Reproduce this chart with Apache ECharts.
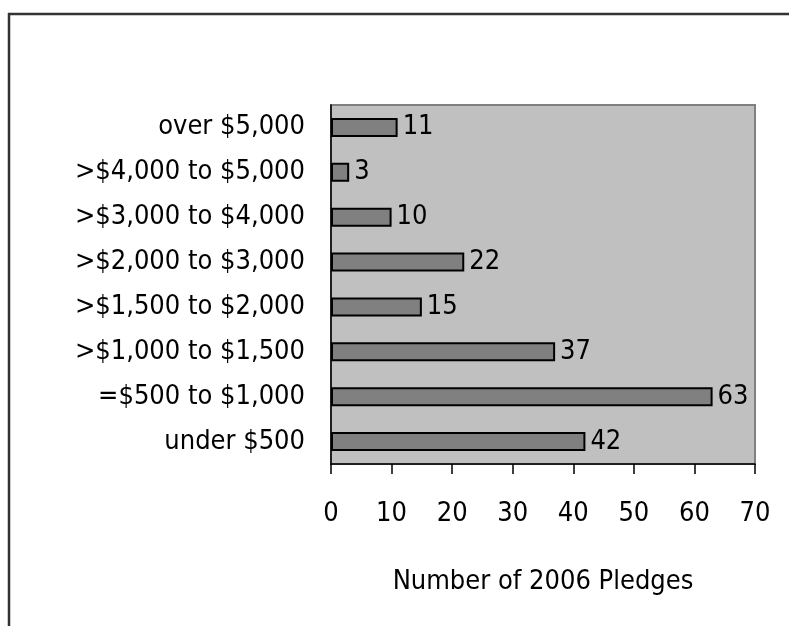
<!DOCTYPE html>
<html><head><meta charset="utf-8">
<script src="https://cdn.jsdelivr.net/npm/echarts@6/dist/echarts.min.js"></script>
<style>html,body{margin:0;padding:0;background:#fff}#c{width:789px;height:626px}</style>
</head><body><div id="c"></div>
<script>
const categories = ['under $500','=$500 to $1,000','>$1,000 to $1,500','>$1,500 to $2,000','>$2,000 to $3,000','>$3,000 to $4,000','>$4,000 to $5,000','over $5,000'];
const pledges = [42, 63, 37, 15, 22, 10, 3, 11];
const FONT = '"Liberation Sans Narrow", "Arial Narrow", "DejaVu Sans Condensed", sans-serif';
const chart = echarts.init(document.getElementById('c'));
chart.setOption({
  backgroundColor: '#fff',
  animation: false,
  graphic: [
    {type:'line', shape:{x1:8,y1:14,x2:789,y2:14}, style:{stroke:'#333',lineWidth:2.5}, z:100},
    {type:'line', shape:{x1:9,y1:13,x2:9,y2:626}, style:{stroke:'#333',lineWidth:2.5}, z:100}
  ],
  grid: {left:331, top:105, right:34, bottom:162, show:true, backgroundColor:'#C0C0C0', borderColor:'#808080', borderWidth:2},
  xAxis: {
    type:'value', min:0, max:70, interval:10,
    name:'Number of 2006 Pledges', nameLocation:'middle', nameGap:104,
    nameTextStyle:{fontFamily:FONT, fontSize:27, color:'#000'},
    axisLine:{show:true, lineStyle:{color:'#000', width:1.5}},
    axisTick:{show:true, length:10, lineStyle:{color:'#000', width:1.5}},
    axisLabel:{fontFamily:FONT, fontSize:27, color:'#000', margin:36},
    splitLine:{show:false}
  },
  yAxis: {
    type:'category', data:categories,
    axisLine:{show:true, lineStyle:{color:'#000', width:1.5}},
    axisTick:{show:false},
    axisLabel:{fontFamily:FONT, fontSize:27, color:'#000', margin:26}
  },
  series: [{
    type:'bar', data:pledges, barWidth:19,
    itemStyle:{color:'#808080', borderColor:'#000', borderWidth:2},
    label:{show:true, position:'right', distance:5, fontFamily:FONT, fontSize:27, color:'#000'}
  }]
});
</script></body></html>
